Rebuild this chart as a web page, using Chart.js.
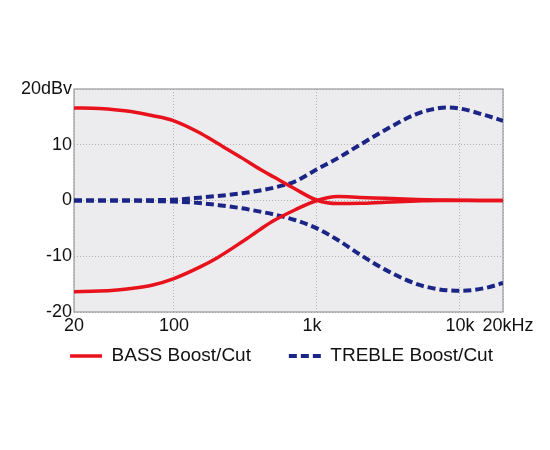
<!DOCTYPE html>
<html>
<head>
<meta charset="utf-8">
<script src="https://cdn.jsdelivr.net/npm/chart.js@4"></script>
<style>
  html, body { margin: 0; padding: 0; background: #ffffff; }
  #wrap { width: 550px; height: 450px; }
</style>
</head>
<body>
<div id="wrap"><canvas id="c" width="550" height="450"></canvas></div>
<script>
// Frequencies (Hz) shared by all series
const freqs = [20, 30, 40, 50, 70, 100, 150, 200, 300, 400, 500, 700, 1000, 1400, 2000, 3000, 5000, 7000, 8000, 10000, 15000, 20000];

// Response values (dBV)
const bassBoost   = [16.6, 16.5, 16.25, 15.95, 15.25, 14.3, 12.2, 10.3, 7.6, 5.6, 4.2, 2.1, 0.05, -0.55, -0.5, -0.3, -0.1, 0, 0, 0, 0, 0];
const bassCut     = [-16.35, -16.25, -16.05, -15.8, -15.2, -14.0, -12.0, -10.3, -7.4, -5.2, -3.6, -1.7, 0, 0.7, 0.55, 0.4, 0.2, 0.1, 0.08, 0.05, 0, 0];
const trebleBoost = [0, 0, 0, 0, 0.05, 0.15, 0.5, 0.8, 1.3, 1.8, 2.3, 3.4, 5.6, 7.6, 10.0, 12.65, 15.55, 16.55, 16.7, 16.5, 15.3, 14.3];
const trebleCut   = [0, 0, 0, 0, -0.1, -0.2, -0.45, -0.8, -1.4, -2.0, -2.5, -3.5, -5.0, -7.1, -9.7, -12.4, -15.0, -15.9, -16.1, -16.2, -15.7, -14.8];

// Axis ticks
const xTickValues = [20, 100, 1000, 10000, 20000];
const xTickLabels = ['20', '100', '1k  ', '10k', '  20kHz'];
const yTickValues = [-20, -10, 0, 10, 20];
const yTickLabels = ['-20', '-10', '0', '10', '20dBv'];

const seriesLabels = ['BASS Boost/Cut', 'TREBLE Boost/Cut'];

const RED = '#e8121c';
const NAVY = '#1b2585';
const FONT = "'Liberation Sans', Arial, Helvetica, sans-serif";

const toPoints = vals => freqs.map((f, i) => ({ x: f, y: vals[i] }));

const plotFrame = {
  id: 'plotFrame',
  beforeDraw(chart) {
    const { ctx, chartArea: a } = chart;
    ctx.save();
    ctx.fillStyle = '#ececef';
    ctx.fillRect(a.left, a.top, a.right - a.left, a.bottom - a.top);
    ctx.restore();
  },
  beforeDatasetsDraw(chart) {
    const { ctx, chartArea: a } = chart;
    ctx.save();
    ctx.strokeStyle = '#9a9a9e';
    ctx.lineWidth = 1.2;
    ctx.strokeRect(a.left, a.top, a.right - a.left, a.bottom - a.top);
    ctx.restore();
  }
};

const common = { fill: false, pointRadius: 0, cubicInterpolationMode: 'monotone', borderCapStyle: 'butt' };

new Chart(document.getElementById('c'), {
  type: 'line',
  data: {
    datasets: [
      Object.assign({ label: seriesLabels[0], data: toPoints(bassBoost), borderColor: RED, backgroundColor: RED, borderWidth: 3.5 }, common),
      Object.assign({ label: seriesLabels[0], data: toPoints(bassCut), borderColor: RED, backgroundColor: RED, borderWidth: 3.5 }, common),
      Object.assign({ label: seriesLabels[1], data: toPoints(trebleBoost), borderColor: NAVY, backgroundColor: NAVY, borderWidth: 4, borderDash: [8, 4] }, common),
      Object.assign({ label: seriesLabels[1], data: toPoints(trebleCut), borderColor: NAVY, backgroundColor: NAVY, borderWidth: 4, borderDash: [8, 4] }, common)
    ]
  },
  options: {
    responsive: false,
    animation: false,
    devicePixelRatio: 1,
    layout: { padding: { left: 13, right: 0, top: 89, bottom: 74.5 } },
    scales: {
      x: {
        type: 'logarithmic',
        min: 20,
        max: 20000,
        afterBuildTicks: s => { s.ticks = xTickValues.map(v => ({ value: v })); },
        afterFit: s => { s.height = 23; },
        ticks: {
          autoSkip: false,
          maxRotation: 0,
          padding: 3,
          color: '#111',
          font: { family: FONT, size: 18 },
          callback: v => { const i = xTickValues.indexOf(v); return i >= 0 ? xTickLabels[i] : ''; }
        },
        grid: { color: '#b2b2b6', lineWidth: 1, drawTicks: false },
        border: { display: false, dash: [1, 2] }
      },
      y: {
        min: -20,
        max: 20,
        afterBuildTicks: s => { s.ticks = yTickValues.map(v => ({ value: v })); },
        afterFit: s => { s.width = 61; },
        ticks: {
          padding: 2,
          color: '#111',
          font: { family: FONT, size: 18 },
          callback: v => { const i = yTickValues.indexOf(v); return i >= 0 ? yTickLabels[i] : ''; }
        },
        grid: { color: '#b2b2b6', lineWidth: 1, drawTicks: false },
        border: { display: false, dash: [1, 2] }
      },
      yRight: {
        position: 'right',
        min: -20,
        max: 20,
        afterFit: s => { s.width = 47; },
        ticks: { display: false },
        grid: { display: false, drawTicks: false },
        border: { display: false }
      }
    },
    plugins: {
      tooltip: { enabled: false },
      legend: {
        position: 'bottom',
        labels: {
          usePointStyle: true,
          pointStyle: 'line',
          pointStyleWidth: 32,
          boxHeight: 19,
          padding: 11.5,
          color: '#111',
          font: { family: FONT, size: 19 },
          filter: item => item.datasetIndex % 2 === 0,
          generateLabels: chart => {
            const items = Chart.defaults.plugins.legend.labels.generateLabels(chart);
            items.forEach(it => {
              const ds = chart.data.datasets[it.datasetIndex];
              it.pointStyle = 'line';
              it.strokeStyle = ds.borderColor;
              it.lineWidth = ds.borderWidth;
              it.lineDash = ds.borderDash || [];
              it.lineCap = 'butt';
              if (it.datasetIndex === 0) it.text = it.text + '     ';
            });
            return items;
          }
        }
      }
    }
  },
  plugins: [plotFrame]
});
</script>
</body>
</html>
